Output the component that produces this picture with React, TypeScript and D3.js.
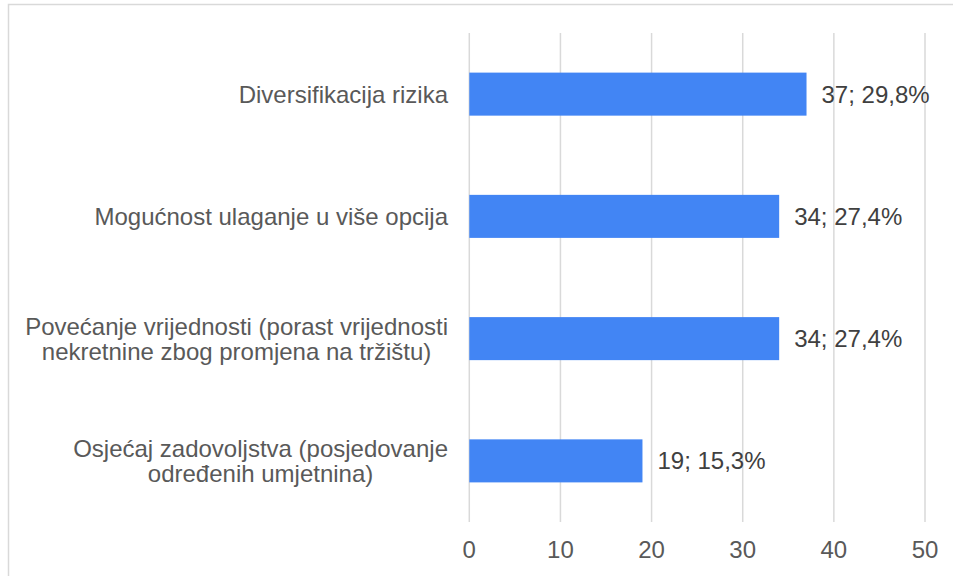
import React from "react";
import * as d3 from "d3";

const categories: string[][] = [
  ["Diversifikacija rizika"],
  ["Mogućnost ulaganje u više opcija"],
  ["Povećanje vrijednosti (porast vrijednosti", "nekretnine zbog promjena na tržištu)"],
  ["Osjećaj zadovoljstva (posjedovanje", "određenih umjetnina)"],
];
const values: number[] = [37, 34, 34, 19];
const percents: string[] = ["29,8%", "27,4%", "27,4%", "15,3%"];
const ticks: number[] = [0, 10, 20, 30, 40, 50];

const W = 953;
const H = 576;
const FONT = "'Liberation Sans', Arial, sans-serif";
const fs = 24;
const lh = 25;

function measure(s: string): number {
  if (typeof document === "undefined") return s.length * fs * 0.5;
  const c = document.createElement("canvas");
  const ctx = c.getContext("2d");
  if (!ctx) return s.length * fs * 0.5;
  ctx.font = `${fs}px 'Liberation Sans', Arial, sans-serif`;
  return ctx.measureText(s).width;
}

export default function App() {
  const x = d3.scaleLinear().domain([0, 50]).range([469.3, 925]);
  const idx = categories.map((_, i) => String(i));
  const y = d3
    .scaleBand<string>()
    .domain(idx)
    .range([33, 522])
    .paddingInner(0.648)
    .paddingOuter(0.324);
  const labelRight = 448;
  return (
    <svg
      width={W}
      height={H}
      style={{ position: "absolute", left: 0, top: 0, background: "#fff" }}
    >
      <rect x={8.5} y={4.5} width={1000} height={700} fill="#fff" stroke="#d9d9d9" strokeWidth={1.5} />
      {ticks.map((t) => (
        <line key={"g" + t} x1={x(t)} x2={x(t)} y1={33} y2={522} stroke="#d9d9d9" strokeWidth={1.5} />
      ))}
      {values.map((v, i) => (
        <rect
          key={"b" + i}
          x={x(0)}
          y={y(String(i))}
          width={x(v) - x(0)}
          height={y.bandwidth()}
          fill="#4285f4"
        />
      ))}
      {values.map((v, i) => (
        <text
          key={"l" + i}
          x={x(v) + 15}
          y={(y(String(i)) as number) + y.bandwidth() / 2}
          dy="0.35em"
          fontFamily={FONT}
          fontSize={fs}
          fill="#404040"
        >
          {`${v}; ${percents[i]}`}
        </text>
      ))}
      {categories.map((lines, i) => {
        const cy = (y(String(i)) as number) + y.bandwidth() / 2;
        const n = lines.length;
        const maxW = Math.max(...lines.map(measure));
        const cx = labelRight - maxW / 2;
        return (
          <text
            key={"c" + i}
            textAnchor="middle"
            fontFamily={FONT}
            fontSize={fs}
            fill="#595959"
          >
            {lines.map((ln, j) => (
              <tspan
                key={j}
                x={cx}
                y={cy + (j - (n - 1) / 2) * lh}
                dy="0.35em"
              >
                {ln}
              </tspan>
            ))}
          </text>
        );
      })}
      {ticks.map((t) => (
        <text
          key={"t" + t}
          x={x(t)}
          y={550}
          dy="0.35em"
          textAnchor="middle"
          fontFamily={FONT}
          fontSize={fs}
          fill="#595959"
        >
          {t}
        </text>
      ))}
    </svg>
  );
}
